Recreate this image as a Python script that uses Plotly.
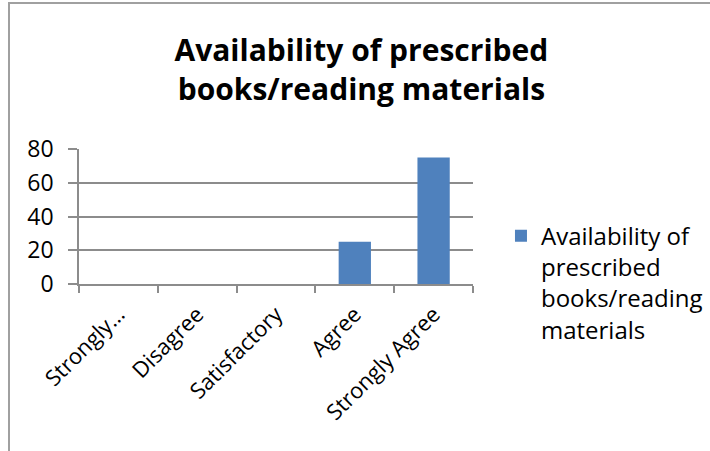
import plotly.graph_objects as go

categories = ["Strongly…", "Disagree", "Satisfactory", "Agree", "Strongly Agree"]
values = [0, 0, 0, 25, 75]
series_name = "Availability of<br>prescribed<br>books/reading<br>materials"
title_text = "Availability of prescribed<br>books/reading materials"
y_ticks = [0, 20, 40, 60, 80]

FONT = "Open Sans, Lato, sans-serif"
GRID = "#8c8c8c"

fig = go.Figure()
fig.add_trace(go.Bar(
    x=categories, y=values, name=series_name,
    marker=dict(color="#4F81BD", line=dict(width=0)),
    width=0.41, showlegend=True,
))

fig.update_layout(
    width=710, height=451,
    margin=dict(l=79, r=237, t=149, b=167, autoexpand=False),
    paper_bgcolor="white", plot_bgcolor="white",
    font=dict(family=FONT, color="black"),
    title=dict(text="<b>" + title_text + "</b>", x=0.509, xanchor="center",
               y=0.864, yanchor="top", yref="container",
               font=dict(size=30, family=FONT, color="black")),
    showlegend=True,
    legend=dict(x=1.071, xanchor="left", y=0.522, yanchor="top",
                font=dict(size=24, family=FONT, color="black"),
                valign="top", bgcolor="rgba(0,0,0,0)", tracegroupgap=0,
                maxheight=400),
    xaxis=dict(type="category", tickangle=-45, tickfont=dict(size=22, family=FONT),
               ticks="outside", tickson="boundaries", ticklen=7, tickcolor=GRID,
               tickwidth=1.5, showline=True, linecolor=GRID, linewidth=1.5,
               ticklabelstandoff=7,
               showgrid=False, zeroline=False),
    yaxis=dict(range=[0, 80], tickvals=y_ticks, tickfont=dict(size=23, family=FONT),
               ticks="outside", ticklen=9, tickcolor=GRID, tickwidth=1.5,
               showline=True, linecolor=GRID, linewidth=1.5,
               ticklabelstandoff=10,
               showgrid=True, gridcolor=GRID, gridwidth=1.5, zeroline=False),
    shapes=[dict(type="rect", xref="paper", yref="paper",
                 x0=(9 - 79) / 394, x1=(730 - 79) / 394,
                 y0=(284 - 470) / 135, y1=(284 - 3) / 135,
                 line=dict(color="#a0a0a0", width=2), fillcolor="rgba(0,0,0,0)", layer="below")],
)

fig.write_html("out.html", config={"displayModeBar": False},
               post_script="document.body.style.margin='0';")
